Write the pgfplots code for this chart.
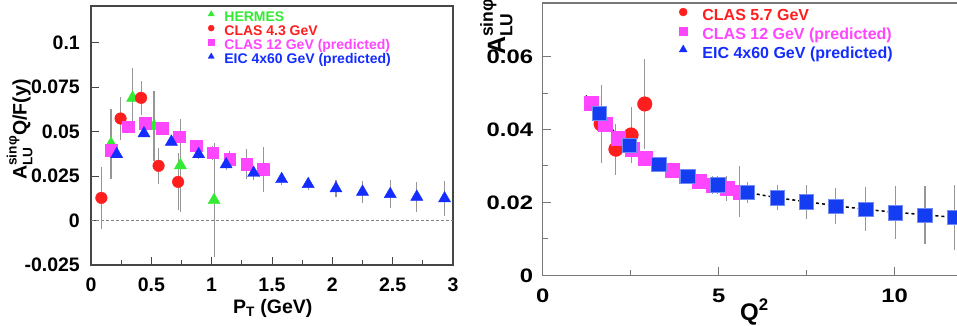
\documentclass[border=0pt]{standalone}
\usepackage{fontspec}
\setmainfont{Liberation Sans}
\usepackage{amsmath}
\usepackage{graphicx}
\usepackage{pgfplots}
\pgfplotsset{compat=1.18}
\usepackage{pgfplotstable}

\definecolor{hgreen}{RGB}{50,235,50}
\definecolor{hred}{RGB}{255,30,30}
\definecolor{hmag}{RGB}{255,70,255}
\definecolor{hblue}{RGB}{20,45,255}
\definecolor{sqblue}{RGB}{20,60,240}
\definecolor{errgray}{RGB}{150,150,150}
\definecolor{frameL}{RGB}{70,70,70}
\definecolor{frameR}{RGB}{120,120,120}

% ---------- left panel data ----------
\pgfplotstableread{
x y e
0.166 0.0430 0.0195
0.345 0.0689 0.0165
0.522 0.0530 0.0198
0.741 0.0310 0.0260
1.020 0.0114 0.0320
}\hermes
\pgfplotstableread{
x y e
0.086 0.0127 0.0172
0.245 0.0573 0.0123
0.415 0.0689 0.0094
0.560 0.0307 0.0103
0.722 0.0217 0.0160
}\clasA
\pgfplotstableread{
x y e
0.166 0.0395 0.0020
0.306 0.0526 0.0020
0.447 0.0545 0.0020
0.588 0.0517 0.0020
0.730 0.0470 0.0025
0.870 0.0420 0.0030
1.008 0.0380 0.0040
1.149 0.0343 0.0050
1.290 0.0316 0.0085
1.428 0.0287 0.0126
}\clasB
\pgfplotstableread{
x y e
0.213 0.0372 0.0020
0.439 0.0489 0.0020
0.666 0.0442 0.0020
0.892 0.0372 0.0025
1.120 0.0315 0.0030
1.348 0.0267 0.0040
1.580 0.0232 0.0030
1.800 0.0204 0.0035
2.030 0.0180 0.0050
2.250 0.0161 0.0060
2.480 0.0148 0.0080
2.700 0.0133 0.0085
2.930 0.0124 0.0100
}\eicA

% ---------- right panel data ----------
\pgfplotstableread{
x y e
1.66 0.0415 0.0108
2.08 0.0346 0.0070
2.51 0.0385 0.0076
2.90 0.0470 0.0123
}\clasC
\pgfplotstableread{
x y e
1.39 0.0472 0.0015
1.77 0.0415 0.0015
2.15 0.0376 0.0015
2.53 0.0346 0.0015
2.90 0.0321 0.0015
3.30 0.0305 0.0015
3.68 0.0287 0.0015
4.07 0.0272 0.0015
4.45 0.0259 0.0015
4.83 0.0248 0.0025
5.23 0.0238 0.0035
5.60 0.0229 0.0070
}\clasD
\pgfplotstableread{
x y e
1.61 0.0444 0.0010
2.46 0.0356 0.0010
3.30 0.0305 0.0010
4.12 0.0271 0.0015
4.97 0.0248 0.0025
5.81 0.0227 0.0030
6.66 0.0213 0.0035
7.49 0.0202 0.0047
8.33 0.0190 0.0050
9.18 0.0181 0.0060
10.02 0.0172 0.0072
10.86 0.0165 0.0080
11.69 0.0159 0.0090
}\eicB
\pgfplotstableread{
x y
1.23 0.0493
1.60 0.0444
2.00 0.0398
2.46 0.0356
3.00 0.0320
3.50 0.0295
4.12 0.0271
5.00 0.0247
5.81 0.0228
6.66 0.0213
7.49 0.0202
8.33 0.0191
9.18 0.0181
10.02 0.0173
10.86 0.0166
11.69 0.0159
12.50 0.0154
}\fitcurve

\pgfplotsset{
  myax/.style={
    scale only axis, anchor=south west,
    tick align=inside, xtick pos=bottom, ytick pos=left,
    major tick length=8pt, minor tick length=5pt,
    /pgf/number format/assume math mode=true,
    legend cell align=left,
  },
  errb/.style={forget plot, only marks, mark=none,
    error bars/.cd, y dir=both, y explicit, error mark=none,
    error bar style={errgray, line width=1.1pt}},
}

\begin{document}
\begin{tikzpicture}[x=1pt,y=1pt]
\useasboundingbox (0,0) rectangle (957,325);
\clip (0,0) rectangle (957,325);

% ================= LEFT =================
\begin{axis}[myax,
  at={(91pt,60pt)}, width=362pt, height=259pt,
  xmin=0, xmax=3, ymin=-0.025, ymax=0.1205,
  axis line style={frameL, line width=1.2pt},
  every tick/.style={frameL, line width=0.9pt},
  xtick={0,0.5,1,1.5,2,2.5,3},
  xticklabels={0,0.5,1,1.5,2,2.5,3},
  minor x tick num=1,
  ytick={-0.025,0,0.025,0.05,0.075,0.1},
  yticklabels={-0.025,0,0.025,0.05,0.075,0.1},
  xticklabel style={font=\fontsize{19.5}{20}\selectfont\bfseries, inner sep=0pt, anchor=north, yshift=-13pt},
  yticklabel style={font=\fontsize{19.5}{20}\selectfont\bfseries, inner sep=0pt, anchor=east, xshift=-11pt},
  legend style={at={(0.3177,0.9819)}, anchor=north west, draw=none, fill=none,
    inner sep=0pt, outer sep=0pt, row sep=0pt,
    font=\fontsize{14}{14}\selectfont\bfseries,
    nodes={inner sep=0pt, text height=10pt, text depth=3.9pt}},
  legend image code/.code={\draw[#1] plot coordinates {(0pt,4pt)}; \path (-5pt,0pt) (13pt,0pt);},
]
\addplot[forget plot, densely dashed, color=gray, line width=0.8pt] coordinates {(0,0) (3,0)};
\addplot[errb] table[x=x,y=y,y error=e]{\hermes};
\addplot[errb] table[x=x,y=y,y error=e]{\clasA};
\addplot[errb] table[x=x,y=y,y error=e]{\clasB};
\addplot[errb] table[x=x,y=y,y error=e]{\eicA};

\addplot[only marks, mark=triangle*, mark size=7pt, color=hgreen,
  legend image post style={mark size=3.5pt}] table[x=x,y=y]{\hermes};
\addlegendentry{\textcolor{hgreen}{HERMES}}
\addplot[only marks, mark=*, mark size=5.8pt, color=hred,
  legend image post style={mark size=3pt}] table[x=x,y=y]{\clasA};
\addlegendentry{\textcolor{hred}{CLAS 4.3 GeV}}
\addplot[only marks, mark=square*, mark size=5.8pt, color=hmag,
  legend image post style={mark size=3pt}] table[x=x,y=y]{\clasB};
\addlegendentry{\textcolor{hmag}{CLAS 12 GeV (predicted)}}
\addplot[only marks, mark=triangle*, mark size=7pt, color=hblue,
  legend image post style={mark size=3.5pt}] table[x=x,y=y]{\eicA};
\addlegendentry{\textcolor{hblue}{EIC 4x60 GeV (predicted)}}
\end{axis}

\node[rotate=90, anchor=base west, inner sep=0pt, font=\fontsize{19.5}{20}\selectfont\bfseries]
  at (26.7,145) {A$^{\text{sinφ}}_{\text{LU}}$Q/F(y)};
\node[anchor=base west, inner sep=0pt, font=\fontsize{19.5}{20}\selectfont\bfseries]
  at (233,12) {P$_{\text{T}}$ (GeV)};

% ================= RIGHT =================
\begin{axis}[myax,
  at={(542.7pt,49.7pt)}, width=440pt, height=272.3pt,
  xmin=0, xmax=12.5, ymin=0, ymax=0.0747,
  axis line style={frameR, line width=1.2pt},
  every tick/.style={frameR, line width=0.9pt},
  xtick={0,5,10},
  xticklabels={\scalebox{1.22}[1]{0},\scalebox{1.22}[1]{5},\scalebox{1.22}[1]{10}},
  minor x tick num=1,
  ytick={0,0.02,0.04,0.06},
  yticklabels={\scalebox{1.22}[1]{0},\scalebox{1.22}[1]{0.02},\scalebox{1.22}[1]{0.04},\scalebox{1.22}[1]{0.06}},
  minor y tick num=1,
  xticklabel style={font=\fontsize{19.5}{20}\selectfont\bfseries, inner sep=0pt, anchor=north, yshift=-13.5pt},
  yticklabel style={font=\fontsize{19.5}{20}\selectfont\bfseries, inner sep=0pt, anchor=east, xshift=-9.5pt},
  legend style={at={(0.3075,0.9828)}, anchor=north west, draw=none, fill=none,
    inner sep=0pt, outer sep=0pt, row sep=0pt,
    font=\fontsize{16}{16}\selectfont\bfseries,
    nodes={inner sep=0pt, text height=13pt, text depth=5.7pt}},
  legend image code/.code={\draw[#1] plot coordinates {(0pt,5pt)}; \path (-5pt,0pt) (19pt,0pt);},
]
\addplot[errb] table[x=x,y=y,y error=e]{\clasC};
\addplot[errb] table[x=x,y=y,y error=e]{\clasD};
\addplot[errb] table[x=x,y=y,y error=e]{\eicB};

\addplot[only marks, mark=*, mark size=7.3pt, color=hred,
  legend image post style={mark size=4pt}] table[x=x,y=y]{\clasC};
\addlegendentry{\textcolor{hred}{CLAS 5.7 GeV}}
\addplot[only marks, mark=square*, mark size=7pt, color=hmag,
  legend image post style={mark size=4pt}] table[x=x,y=y]{\clasD};
\addlegendentry{\textcolor{hmag}{CLAS 12 GeV (predicted)}}
\addplot[only marks, mark=square*, mark size=7.2pt, color=sqblue,
  mark options={draw=sqblue!60!white, line width=0.6pt, fill=sqblue},
  legend image post style={mark=triangle*, mark size=4.5pt, mark options={draw=hblue, fill=hblue}}] table[x=x,y=y]{\eicB};
\addlegendentry{\textcolor{hblue}{EIC 4x60 GeV (predicted)}}
\addplot[forget plot, smooth, black, line width=1.5pt, dash pattern=on 3pt off 3pt] table[x=x,y=y]{\fitcurve};
\end{axis}

\node[rotate=90, anchor=base west, inner sep=0pt, font=\fontsize{25}{26}\selectfont\bfseries]
  at (505,270) {A$^{\text{sinφ}}_{\text{LU}}$};
\node[anchor=base west, inner sep=0pt, font=\fontsize{24}{25}\selectfont\bfseries]
  at (740,5) {Q$^{\text{2}}$};
\end{tikzpicture}
\end{document}
